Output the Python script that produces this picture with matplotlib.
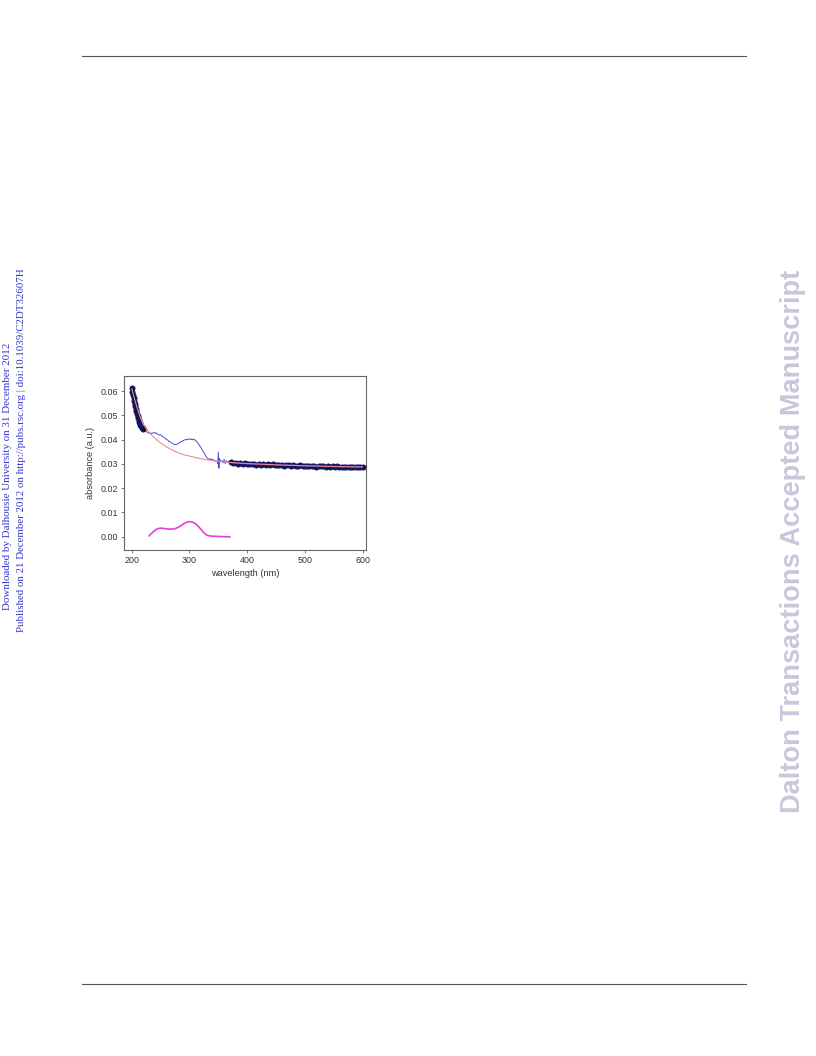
import matplotlib
matplotlib.use("Agg")
import matplotlib.pyplot as plt
from matplotlib.lines import Line2D

# ---- data ----
fit_wl = [200, 205, 210, 215, 220, 230, 240, 250, 260, 270, 280, 290, 300, 320, 340,
          360, 380, 400, 450, 500, 550, 600]
fit_abs = [0.0610, 0.0565, 0.0525, 0.0490, 0.0462, 0.0430, 0.0405, 0.0386, 0.0370,
           0.0357, 0.0346, 0.0338, 0.0332, 0.0321, 0.0313, 0.0308, 0.0304, 0.0301,
           0.0296, 0.0292, 0.0289, 0.0287]

blue_wl = [200, 205, 210, 215, 220, 222, 224, 226, 228, 230, 232, 234, 236, 238, 240,
           242, 244, 246, 248, 250, 252, 254, 256, 258, 260, 262, 264, 266, 268, 270,
           272, 274, 276, 278, 280, 282, 284, 286, 288, 290, 292, 294, 296, 298, 300,
           302, 304, 306, 308, 310, 312, 314, 316, 318, 320, 322, 324, 326, 328, 330,
           332, 334, 336, 338, 340, 342, 344, 346, 348, 349, 350, 351, 352, 354, 356,
           358, 360, 362, 364, 366, 368, 370]
blue_abs = [0.0610, 0.0562, 0.0520, 0.0480, 0.0447, 0.0440, 0.0436, 0.0431, 0.0429,
            0.0426, 0.0428, 0.0424, 0.0427, 0.0429, 0.0426, 0.0428, 0.0423, 0.0421,
            0.0419, 0.0420, 0.0415, 0.0412, 0.0409, 0.0405, 0.0402, 0.0398, 0.0394,
            0.0391, 0.0388, 0.0385, 0.0382, 0.0380, 0.0379, 0.0381, 0.0383, 0.0386,
            0.0389, 0.0392, 0.0394, 0.0397, 0.0399, 0.0401, 0.0399, 0.0402, 0.0403,
            0.0400, 0.0402, 0.0399, 0.0401, 0.0397, 0.0393, 0.0388, 0.0381, 0.0373,
            0.0366, 0.0358, 0.0350, 0.0342, 0.0334, 0.0326, 0.0322, 0.0318, 0.0321,
            0.0317, 0.0319, 0.0315, 0.0314, 0.0311, 0.0309, 0.0300, 0.0348, 0.0282,
            0.0322, 0.0308, 0.0313, 0.0304, 0.0318, 0.0301, 0.0313, 0.0309, 0.0310,
            0.0308]

dot_wl1 = [200, 201, 202, 203, 204, 205, 206, 207, 208, 209, 210, 211, 212, 213, 214,
           215, 216, 217, 218, 219, 220]
dot_abs1 = [0.0612, 0.0598, 0.0585, 0.0572, 0.0560, 0.0548, 0.0537, 0.0526, 0.0516,
            0.0506, 0.0497, 0.0489, 0.0481, 0.0474, 0.0467, 0.0462, 0.0457, 0.0452,
            0.0449, 0.0446, 0.0443]

dot_wl2 = [372, 376, 380, 384, 388, 392, 396, 400, 404, 408, 412, 416, 420, 424, 428,
           432, 436, 440, 444, 448, 452, 456, 460, 464, 468, 472, 476, 480, 484, 488,
           492, 496, 500, 504, 508, 512, 516, 520, 524, 528, 532, 536, 540, 544, 548,
           552, 556, 560, 564, 568, 572, 576, 580, 584, 588, 592, 596, 600]
dot_abs2 = [0.0306, 0.0303, 0.0305, 0.0301, 0.0303, 0.0300, 0.0302, 0.0299, 0.0301,
            0.0298, 0.0300, 0.0297, 0.0301, 0.0296, 0.0299, 0.0297, 0.0298, 0.0295,
            0.0298, 0.0296, 0.0294, 0.0297, 0.0295, 0.0293, 0.0296, 0.0294, 0.0292,
            0.0295, 0.0293, 0.0291, 0.0294, 0.0292, 0.0293, 0.0290, 0.0293, 0.0291,
            0.0292, 0.0289, 0.0292, 0.0290, 0.0291, 0.0288, 0.0291, 0.0289, 0.0290,
            0.0287, 0.0290, 0.0288, 0.0286, 0.0289, 0.0287, 0.0289, 0.0286, 0.0288,
            0.0286, 0.0289, 0.0287, 0.0286]

diff_wl = [230, 235, 240, 245, 250, 255, 260, 265, 270, 275, 280, 285, 290, 295, 300,
           305, 310, 315, 320, 325, 330, 335, 340, 350, 360, 370]
diff_abs = [0.0003, 0.0015, 0.0026, 0.0033, 0.0035, 0.0034, 0.0032, 0.0031, 0.0031,
            0.0033, 0.0038, 0.0045, 0.0053, 0.0059, 0.0062, 0.0060, 0.0054, 0.0043,
            0.0030, 0.0016, 0.0006, 0.0003, 0.0002, 0.0001, 0.0000, -0.0001]

xticks = [200, 300, 400, 500, 600]
yticks = [0.00, 0.01, 0.02, 0.03, 0.04, 0.05, 0.06]

# ---- figure ----
fig = plt.figure(figsize=(8.16, 10.56), dpi=100)
W, H = 816, 1056

def fx(px):
    return px / W

def fy(py):
    return 1 - py / H

# header / footer rules
fig.add_artist(Line2D([fx(82), fx(746)], [fy(55.5), fy(55.5)], color="#555555", lw=0.8))
fig.add_artist(Line2D([fx(82), fx(746)], [fy(983.5), fy(983.5)], color="#555555", lw=0.8))

# side texts
fig.text(fx(7.5), fy(476.5), "Downloaded by Dalhousie University on 31 December 2012",
         rotation=90, ha="center", va="center", color="#3333cc",
         family="Liberation Serif", fontsize=7.9)
fig.text(fx(22), fy(450), "Published on 21 December 2012 on http://pubs.rsc.org | doi:10.1039/C2DT32607H",
         rotation=90, ha="center", va="center", color="#3333cc",
         family="Liberation Serif", fontsize=7.8)
fig.text(fx(793), fy(541), "Dalton Transactions Accepted Manuscript",
         rotation=90, ha="center", va="center", color="#c8c8dc",
         family="Liberation Sans", fontweight="bold", fontsize=19.6)

# axes
ax = fig.add_axes([fx(124.3), fy(550), (366 - 124.3) / W, (550 - 376) / H])
ax.plot(blue_wl, blue_abs, color="#4a4ad8", lw=0.7, zorder=2)
ax.plot(dot_wl1, dot_abs1, ls="none", marker="o", ms=3.8, mfc="#111122",
        mec="#1a1a90", mew=0.5, zorder=3)
ax.plot(dot_wl2, dot_abs2, ls="none", marker="o", ms=3.8, mfc="#111122",
        mec="#1a1a90", mew=0.5, zorder=3)
ax.plot(dot_wl2, dot_abs2, color="#3030c0", lw=1.0, zorder=4)
ax.plot(fit_wl, fit_abs, color="#e89090", lw=0.8, zorder=5)
ax.plot(diff_wl, diff_abs, color="#e040e0", lw=1.2, zorder=2)

ax.set_xlim(187, 606)
ax.set_ylim(-0.0055, 0.0662)
ax.set_xticks(xticks)
ax.set_yticks(yticks)
ax.set_xticklabels([str(t) for t in xticks])
ax.set_yticklabels(["%.2f" % t for t in yticks])
for s in ax.spines.values():
    s.set_color("#666666")
    s.set_linewidth(0.8)
ax.tick_params(direction="out", length=2.5, width=0.6, color="#666666",
               labelsize=6.4, labelcolor="#333333", pad=2)
for lab in ax.get_xticklabels() + ax.get_yticklabels():
    lab.set_family("Liberation Sans")
ax.set_xlabel("wavelength (nm)", family="Liberation Sans", fontsize=6.7,
              color="#333333", labelpad=3)
ax.set_ylabel("absorbance (a.u.)", family="Liberation Sans", fontsize=6.6,
              color="#333333", labelpad=4)

fig.savefig("out.png", dpi=100)
